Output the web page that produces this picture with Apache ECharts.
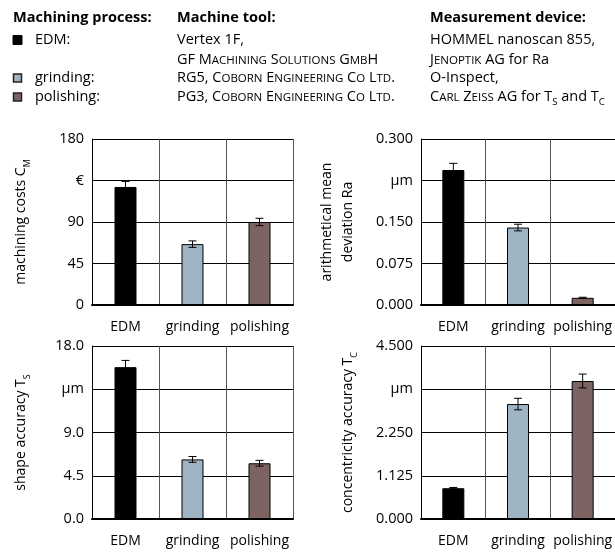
<!DOCTYPE html>
<html><head><meta charset="utf-8">
<script src="https://cdn.jsdelivr.net/npm/echarts@6/dist/echarts.min.js"></script>
<style>html,body{margin:0;padding:0;background:#fff}#c{width:615px;height:552px}</style>
</head><body><div id="c"></div>
<script>
// ---- data ----
const categories = ['EDM', 'grinding', 'polishing'];
const barColors = ['#000000', '#9fb4c3', '#7d6462'];
const costValues = [128, 66, 90];
const costErrors = [6, 3.5, 4];
const raValues = [0.244, 0.140, 0.013];
const raErrors = [0.012, 0.006, 0.001];
const tsValues = [15.8, 6.2, 5.8];
const tsErrors = [0.7, 0.3, 0.3];
const tcValues = [0.80, 2.99, 3.59];
const tcErrors = [0.02, 0.15, 0.18];
const costTicks = ['0', '45', '90', '€', '180'];
const raTicks = ['0.000', '0.075', '0.150', 'µm', '0.300'];
const tsTicks = ['0.0', '4.5', '9.0', 'µm', '18.0'];
const tcTicks = ['0.000', '1.125', '2.250', 'µm', '4.500'];
const axisMax = [180, 0.3, 18, 4.5];

const FF = 'Open Sans';
const chart = echarts.init(document.getElementById('c'), null, {renderer: 'canvas'});

const panels = [
  {grid: {left: 92, top: 139, width: 201, height: 166}, vals: costValues, errs: costErrors, ticks: costTicks,
   name: 'machining costs C{sub|M}', gap: 60},
  {grid: {left: 421, top: 139, width: 202, height: 166}, vals: raValues, errs: raErrors, ticks: raTicks,
   name: 'arithmetical mean\ndeviation Ra', gap: 62},
  {grid: {left: 92, top: 346, width: 201, height: 173}, vals: tsValues, errs: tsErrors, ticks: tsTicks,
   name: 'shape accuracy T{sub|S}', gap: 60},
  {grid: {left: 421, top: 346, width: 202, height: 173}, vals: tcValues, errs: tcErrors, ticks: tcTicks,
   name: 'concentricity accuracy T{sub|C}', gap: 62}
];

const grids = [], xAxes = [], yAxes = [], series = [];
panels.forEach((p, k) => {
  grids.push(Object.assign({containLabel: false}, p.grid));
  xAxes.push({
    type: 'category', gridIndex: k, data: categories, boundaryGap: true,
    axisLine: {show: true, lineStyle: {color: '#000', width: 2}},
    axisTick: {show: false},
    splitLine: {show: true, lineStyle: {color: '#555', width: 1}},
    axisLabel: {fontFamily: FF, fontSize: 14, color: '#000', margin: 15, interval: 0}
  });
  const mx = axisMax[k];
  yAxes.push({
    type: 'value', gridIndex: k, min: 0, max: mx, interval: mx / 4,
    axisLine: {show: true, lineStyle: {color: '#000', width: 1}},
    axisTick: {show: false},
    splitLine: {show: true, lineStyle: {color: '#000', width: 1}},
    axisLabel: {fontFamily: FF, fontSize: 14.5, color: '#000', margin: 8,
      formatter: (v) => p.ticks[Math.round(v / (mx / 4))]},
    name: p.name, nameLocation: 'middle', nameRotate: 90, nameGap: p.gap,
    nameTextStyle: {fontFamily: FF, fontSize: 14, color: '#000', lineHeight: 21,
      rich: {sub: {fontFamily: FF, fontSize: 9, color: '#000', verticalAlign: 'bottom', lineHeight: 21}}}
  });
  series.push({
    type: 'bar', xAxisIndex: k, yAxisIndex: k, barWidth: 22,
    data: p.vals.map((v, i) => ({value: v, itemStyle: {color: barColors[i], borderColor: '#000', borderWidth: 1}})),
    animation: false
  });
  series.push({
    type: 'custom', xAxisIndex: k, yAxisIndex: k, z: 5,
    data: p.vals.map((v, i) => [i, v, p.errs[i]]),
    renderItem: (params, api) => {
      const x = api.value(0), v = api.value(1), e = api.value(2);
      const t = api.coord([x, v + e]), b = api.coord([x, v - e]);
      const w = 4, st = {stroke: '#000', lineWidth: 1};
      return {type: 'group', children: [
        {type: 'line', shape: {x1: t[0], y1: t[1], x2: b[0], y2: b[1]}, style: st},
        {type: 'line', shape: {x1: t[0] - w, y1: t[1], x2: t[0] + w, y2: t[1]}, style: st},
        {type: 'line', shape: {x1: b[0] - w, y1: b[1], x2: b[0] + w, y2: b[1]}, style: st}
      ]};
    },
    animation: false
  });
});

// ---- header ----
const HS = 14.5, SC = 11.5;
const richDef = {
  sc: {fontFamily: FF, fontSize: SC, fill: '#000', padding: [2, 0, 0, 0]},
  sub: {fontFamily: FF, fontSize: 9.5, fill: '#000', verticalAlign: 'bottom', lineHeight: 21}
};
function txt(x, y, text, bold) {
  return {type: 'text', x: x, y: y, silent: true,
    style: {text: text, fontFamily: FF, fontSize: HS, fontWeight: bold ? 'bold' : 'normal', fill: '#000',
      verticalAlign: 'middle', align: 'left', lineHeight: 21, rich: richDef}};
}
const c1 = 13, c2 = 177, c3 = 430;
const rows = [18, 40, 60, 78, 97];
const graphics = [
  txt(c1, rows[0], 'Machining process:', true),
  txt(c2, rows[0], 'Machine tool:', true),
  txt(c3, rows[0], 'Measurement device:', true),
  txt(35, rows[1], 'EDM:'),
  txt(35, rows[3], 'grinding:'),
  txt(35, rows[4], 'polishing:'),
  txt(c2, rows[1], 'Vertex 1F,'),
  txt(c2, rows[2], 'GF M{sc|ACHINING} S{sc|OLUTIONS} G{sc|MB}H'),
  txt(c2, rows[3], 'RG5, C{sc|OBORN} E{sc|NGINEERING} C{sc|O} L{sc|TD}.'),
  txt(c2, rows[4], 'PG3, C{sc|OBORN} E{sc|NGINEERING} C{sc|O} L{sc|TD}.'),
  txt(c3, rows[1], 'HOMMEL nanoscan 855,'),
  txt(c3, rows[2], 'J{sc|ENOPTIK} AG for Ra'),
  txt(c3, rows[3], 'O-Inspect,'),
  txt(c3, rows[4], 'C{sc|ARL} Z{sc|EISS} AG for T{sub|S} and T{sub|C}'),
  {type: 'rect', shape: {x: 13, y: rows[1] - 4.5, width: 9, height: 9}, style: {fill: barColors[0], stroke: '#000', lineWidth: 1}},
  {type: 'rect', shape: {x: 13.5, y: rows[3] - 4, width: 8, height: 8}, style: {fill: barColors[1], stroke: '#222', lineWidth: 1.5}},
  {type: 'rect', shape: {x: 13.5, y: rows[4] - 4, width: 8, height: 8}, style: {fill: barColors[2], stroke: '#222', lineWidth: 1.5}}
];

chart.setOption({
  animation: false,
  backgroundColor: '#fff',
  grid: grids, xAxis: xAxes, yAxis: yAxes, series: series,
  graphic: graphics
});
</script></body></html>
